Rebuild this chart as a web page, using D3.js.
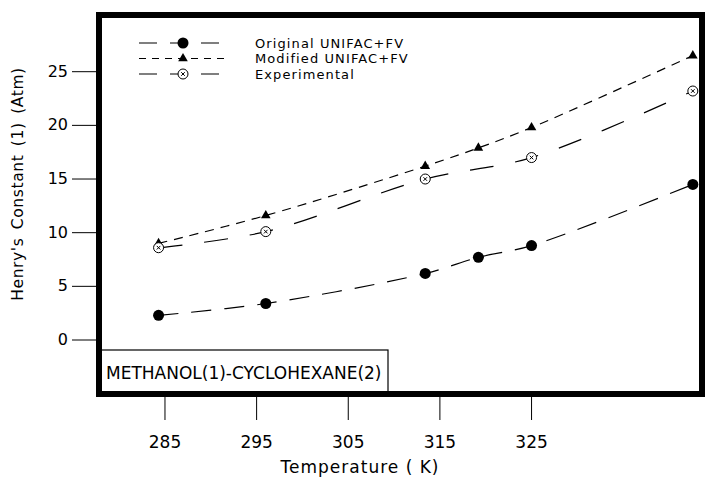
<!DOCTYPE html>
<html>
<head>
<meta charset="utf-8">
<script src="https://cdn.jsdelivr.net/npm/d3@7"></script>
<style>
  body { margin: 0; background: #fff; }
  svg text { font-family: "DejaVu Sans", sans-serif; fill: #000; }
</style>
</head>
<body>
<svg id="chart" width="705" height="480"></svg>
<script>
// values
const temperature = [284.3, 296.0, 313.4, 319.2, 325.0, 342.6];
const original = [2.3, 3.4, 6.2, 7.7, 8.8, 14.5];
const modified = [9.0, 11.6, 16.2, 17.9, 19.8, 26.5];
const expTemperature = [284.3, 296.0, 313.4, 325.0, 342.6];
const experimental = [8.6, 10.1, 15.0, 17.0, 23.2];

const xTicks = [285, 295, 305, 315, 325];
const yTicks = [0, 5, 10, 15, 20, 25];
const seriesNames = ["Original UNIFAC+FV", "Modified UNIFAC+FV", "Experimental"];
const systemLabel = "METHANOL(1)-CYCLOHEXANE(2)";

const frame = { left: 99, right: 702, top: 15, bottom: 394 };

const svg = d3.select('#chart');

const xScale = d3.scaleLinear()
    .domain([277.8, 343.6])
    .range([frame.left, frame.right]);

const yScale = d3.scaleLinear()
    .domain([0, 25])
    .range([340, 71.7]);

const styles = [
    { dash: '20,13', symbol: 'circle' },
    { dash: '9,7', symbol: 'triangle' },
    { dash: '24,22', symbol: 'exp' }
];

const line = d3.line()
    .x(d => xScale(d[0]))
    .y(d => yScale(d[1]))
    .curve(d3.curveCatmullRom);

const data = [
    d3.zip(temperature, original),
    d3.zip(temperature, modified),
    d3.zip(expTemperature, experimental)
];

//y-axis ticks and labels
const yAxis = svg.append('g');
yTicks.forEach(t => {
    yAxis.append('line')
        .attr('x1', 72).attr('x2', frame.left)
        .attr('y1', yScale(t)).attr('y2', yScale(t))
        .attr('stroke', '#000').attr('stroke-width', 1);
    yAxis.append('text')
        .attr('x', 68).attr('y', yScale(t) + 5)
        .attr('text-anchor', 'end')
        .style('font-size', '16px')
        .text(t);
});

//x-axis ticks and labels
const xAxis = svg.append('g');
xTicks.forEach(t => {
    xAxis.append('line')
        .attr('x1', xScale(t)).attr('x2', xScale(t))
        .attr('y1', frame.bottom).attr('y2', 420)
        .attr('stroke', '#000').attr('stroke-width', 1);
    xAxis.append('text')
        .attr('x', xScale(t)).attr('y', 448)
        .attr('text-anchor', 'middle')
        .style('font-size', '17px')
        .text(t);
});

//axis titles
svg.append('text')
    .attr('x', 360).attr('y', 473)
    .attr('text-anchor', 'middle')
    .style('font-size', '17px')
    .style('letter-spacing', '1px')
    .text('Temperature ( K)');

svg.append('text')
    .attr('transform', 'translate(23,184) rotate(-90)')
    .attr('text-anchor', 'middle')
    .style('font-size', '15.5px')
    .style('letter-spacing', '0.6px')
    .style('word-spacing', '3px')
    .text("Henry's Constant (1) (Atm)");

//markers
function marker(g, type, x, y) {
    if (type === 'circle') {
        g.append('circle').attr('cx', x).attr('cy', y).attr('r', 5.5).attr('fill', '#000');
    } else if (type === 'triangle') {
        g.append('path')
            .attr('transform', `translate(${x},${y})`)
            .attr('d', d3.symbol(d3.symbolTriangle, 40)())
            .attr('fill', '#000');
    } else {
        g.append('circle').attr('cx', x).attr('cy', y).attr('r', 5)
            .attr('fill', '#fff').attr('stroke', '#000').attr('stroke-width', 1);
        g.append('path')
            .attr('d', `M${x - 1.8},${y - 1.8}L${x + 1.8},${y + 1.8}M${x - 1.8},${y + 1.8}L${x + 1.8},${y - 1.8}`)
            .attr('stroke', '#000').attr('stroke-width', 1);
    }
}

//data lines
data.forEach((d, i) => {
    svg.append('path')
        .datum(d)
        .attr('fill', 'none')
        .attr('stroke', '#000')
        .attr('stroke-width', 1.2)
        .attr('stroke-dasharray', styles[i].dash)
        .attr('d', line);
});

data.forEach((d, i) => {
    const g = svg.append('g');
    d.forEach(p => marker(g, styles[i].symbol, xScale(p[0]), yScale(p[1])));
});

//legend
const legendY = [43, 58.5, 74];
seriesNames.forEach((name, i) => {
    const g = svg.append('g');
    g.append('line')
        .attr('x1', 139).attr('x2', 228)
        .attr('y1', legendY[i]).attr('y2', legendY[i])
        .attr('stroke', '#000').attr('stroke-width', 1.2)
        .attr('stroke-dasharray', i === 1 ? '7,6' : '18,13');
    marker(g, styles[i].symbol, 183, legendY[i]);
    g.append('text')
        .attr('x', 255).attr('y', legendY[i] + 4.5)
        .style('font-size', '13px')
        .style('letter-spacing', '1.1px')
        .text(name);
});

//system label box
svg.append('rect')
    .attr('x', frame.left).attr('y', 350)
    .attr('width', 289).attr('height', frame.bottom - 350)
    .attr('fill', '#fff').attr('stroke', '#000').attr('stroke-width', 1.2);

svg.append('text')
    .attr('x', 106).attr('y', 379)
    .style('font-size', '17px')
    .text(systemLabel);

//frame
svg.append('rect')
    .attr('x', frame.left).attr('y', frame.top)
    .attr('width', frame.right - frame.left)
    .attr('height', frame.bottom - frame.top)
    .attr('fill', 'none')
    .attr('stroke', '#000')
    .attr('stroke-width', 6);
</script>
</body>
</html>
